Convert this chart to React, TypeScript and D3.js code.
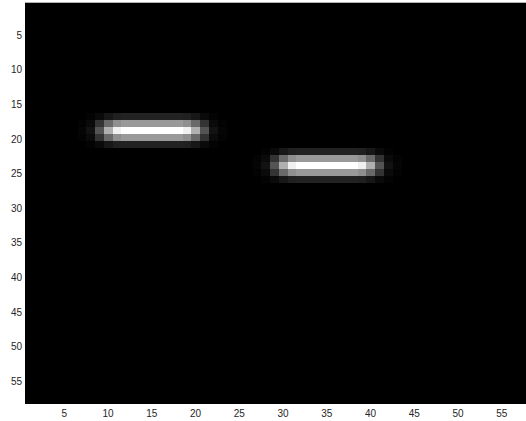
import React from 'react';
import * as d3 from 'd3';

// image is 58 x 58, mostly zero
const nRows = 58;
const nCols = 58;

// blurred streak: 5 rows x 17 columns
const streak = [
  [0.00, 0.01, 0.04, 0.09, 0.125, 0.133, 0.133, 0.133, 0.133, 0.133, 0.133, 0.133, 0.125, 0.09, 0.04, 0.01, 0.00],
  [0.01, 0.04, 0.20, 0.41, 0.56, 0.60, 0.60, 0.60, 0.60, 0.60, 0.60, 0.60, 0.56, 0.41, 0.20, 0.04, 0.01],
  [0.02, 0.07, 0.33, 0.69, 0.94, 1.00, 1.00, 1.00, 1.00, 1.00, 1.00, 1.00, 0.94, 0.69, 0.33, 0.07, 0.02],
  [0.01, 0.04, 0.20, 0.41, 0.56, 0.60, 0.60, 0.60, 0.60, 0.60, 0.60, 0.60, 0.56, 0.41, 0.20, 0.04, 0.01],
  [0.00, 0.01, 0.04, 0.09, 0.125, 0.133, 0.133, 0.133, 0.133, 0.133, 0.133, 0.133, 0.125, 0.09, 0.04, 0.01, 0.00],
];

// top-left cell (column, row) where each streak sits
const streakCols = [7, 27];
const streakRows = [17, 22];

const xTicks = [5, 10, 15, 20, 25, 30, 35, 40, 45, 50, 55];
const yTicks = [5, 10, 15, 20, 25, 30, 35, 40, 45, 50, 55];

export default function App() {
  const width = 526;
  const height = 421;
  const left = 25;
  const top = 2.7;
  const cell = 8.75;

  const x = d3.scaleLinear().domain([0.5, nCols + 0.5]).range([left, left + nCols * cell]);
  const y = d3.scaleLinear().domain([0.5, nRows + 0.5]).range([top, 404]);
  const color = d3.scaleLinear<string>().domain([0, 1]).range(['#000000', '#ffffff']);

  const cells: { c: number; r: number; v: number }[] = [];
  streakCols.forEach((c0, k) => {
    const r0 = streakRows[k];
    streak.forEach((row, i) => {
      row.forEach((v, j) => {
        if (v > 0) cells.push({ c: c0 + j, r: r0 + i, v });
      });
    });
  });

  const cw = x(2) - x(1);
  const ch = y(2) - y(1);

  return (
    <svg
      width={width}
      height={height}
      style={{ position: 'absolute', left: 0, top: 0, background: '#fff' }}
      fontFamily="'Liberation Sans', Arial, sans-serif"
      fontSize={10}
    >
      <rect x={x(0.5)} y={y(0.5)} width={x(nCols + 0.5) - x(0.5)} height={y(nRows + 0.5) - y(0.5)} fill="#000" />
      <g shapeRendering="crispEdges">
        {cells.map((d, i) => (
          <rect
            key={i}
            x={x(d.c - 0.5)}
            y={y(d.r - 0.5)}
            width={cw + 0.3}
            height={ch + 0.3}
            fill={color(d.v)}
          />
        ))}
      </g>
      {yTicks.map(t => (
        <text key={'y' + t} x={left - 3} y={y(t) + 1.5} textAnchor="end" dominantBaseline="central" fill="#262626">
          {t}
        </text>
      ))}
      {xTicks.map(t => (
        <text key={'x' + t} x={x(t)} y={417} textAnchor="middle" fill="#262626">
          {t}
        </text>
      ))}
    </svg>
  );
}
